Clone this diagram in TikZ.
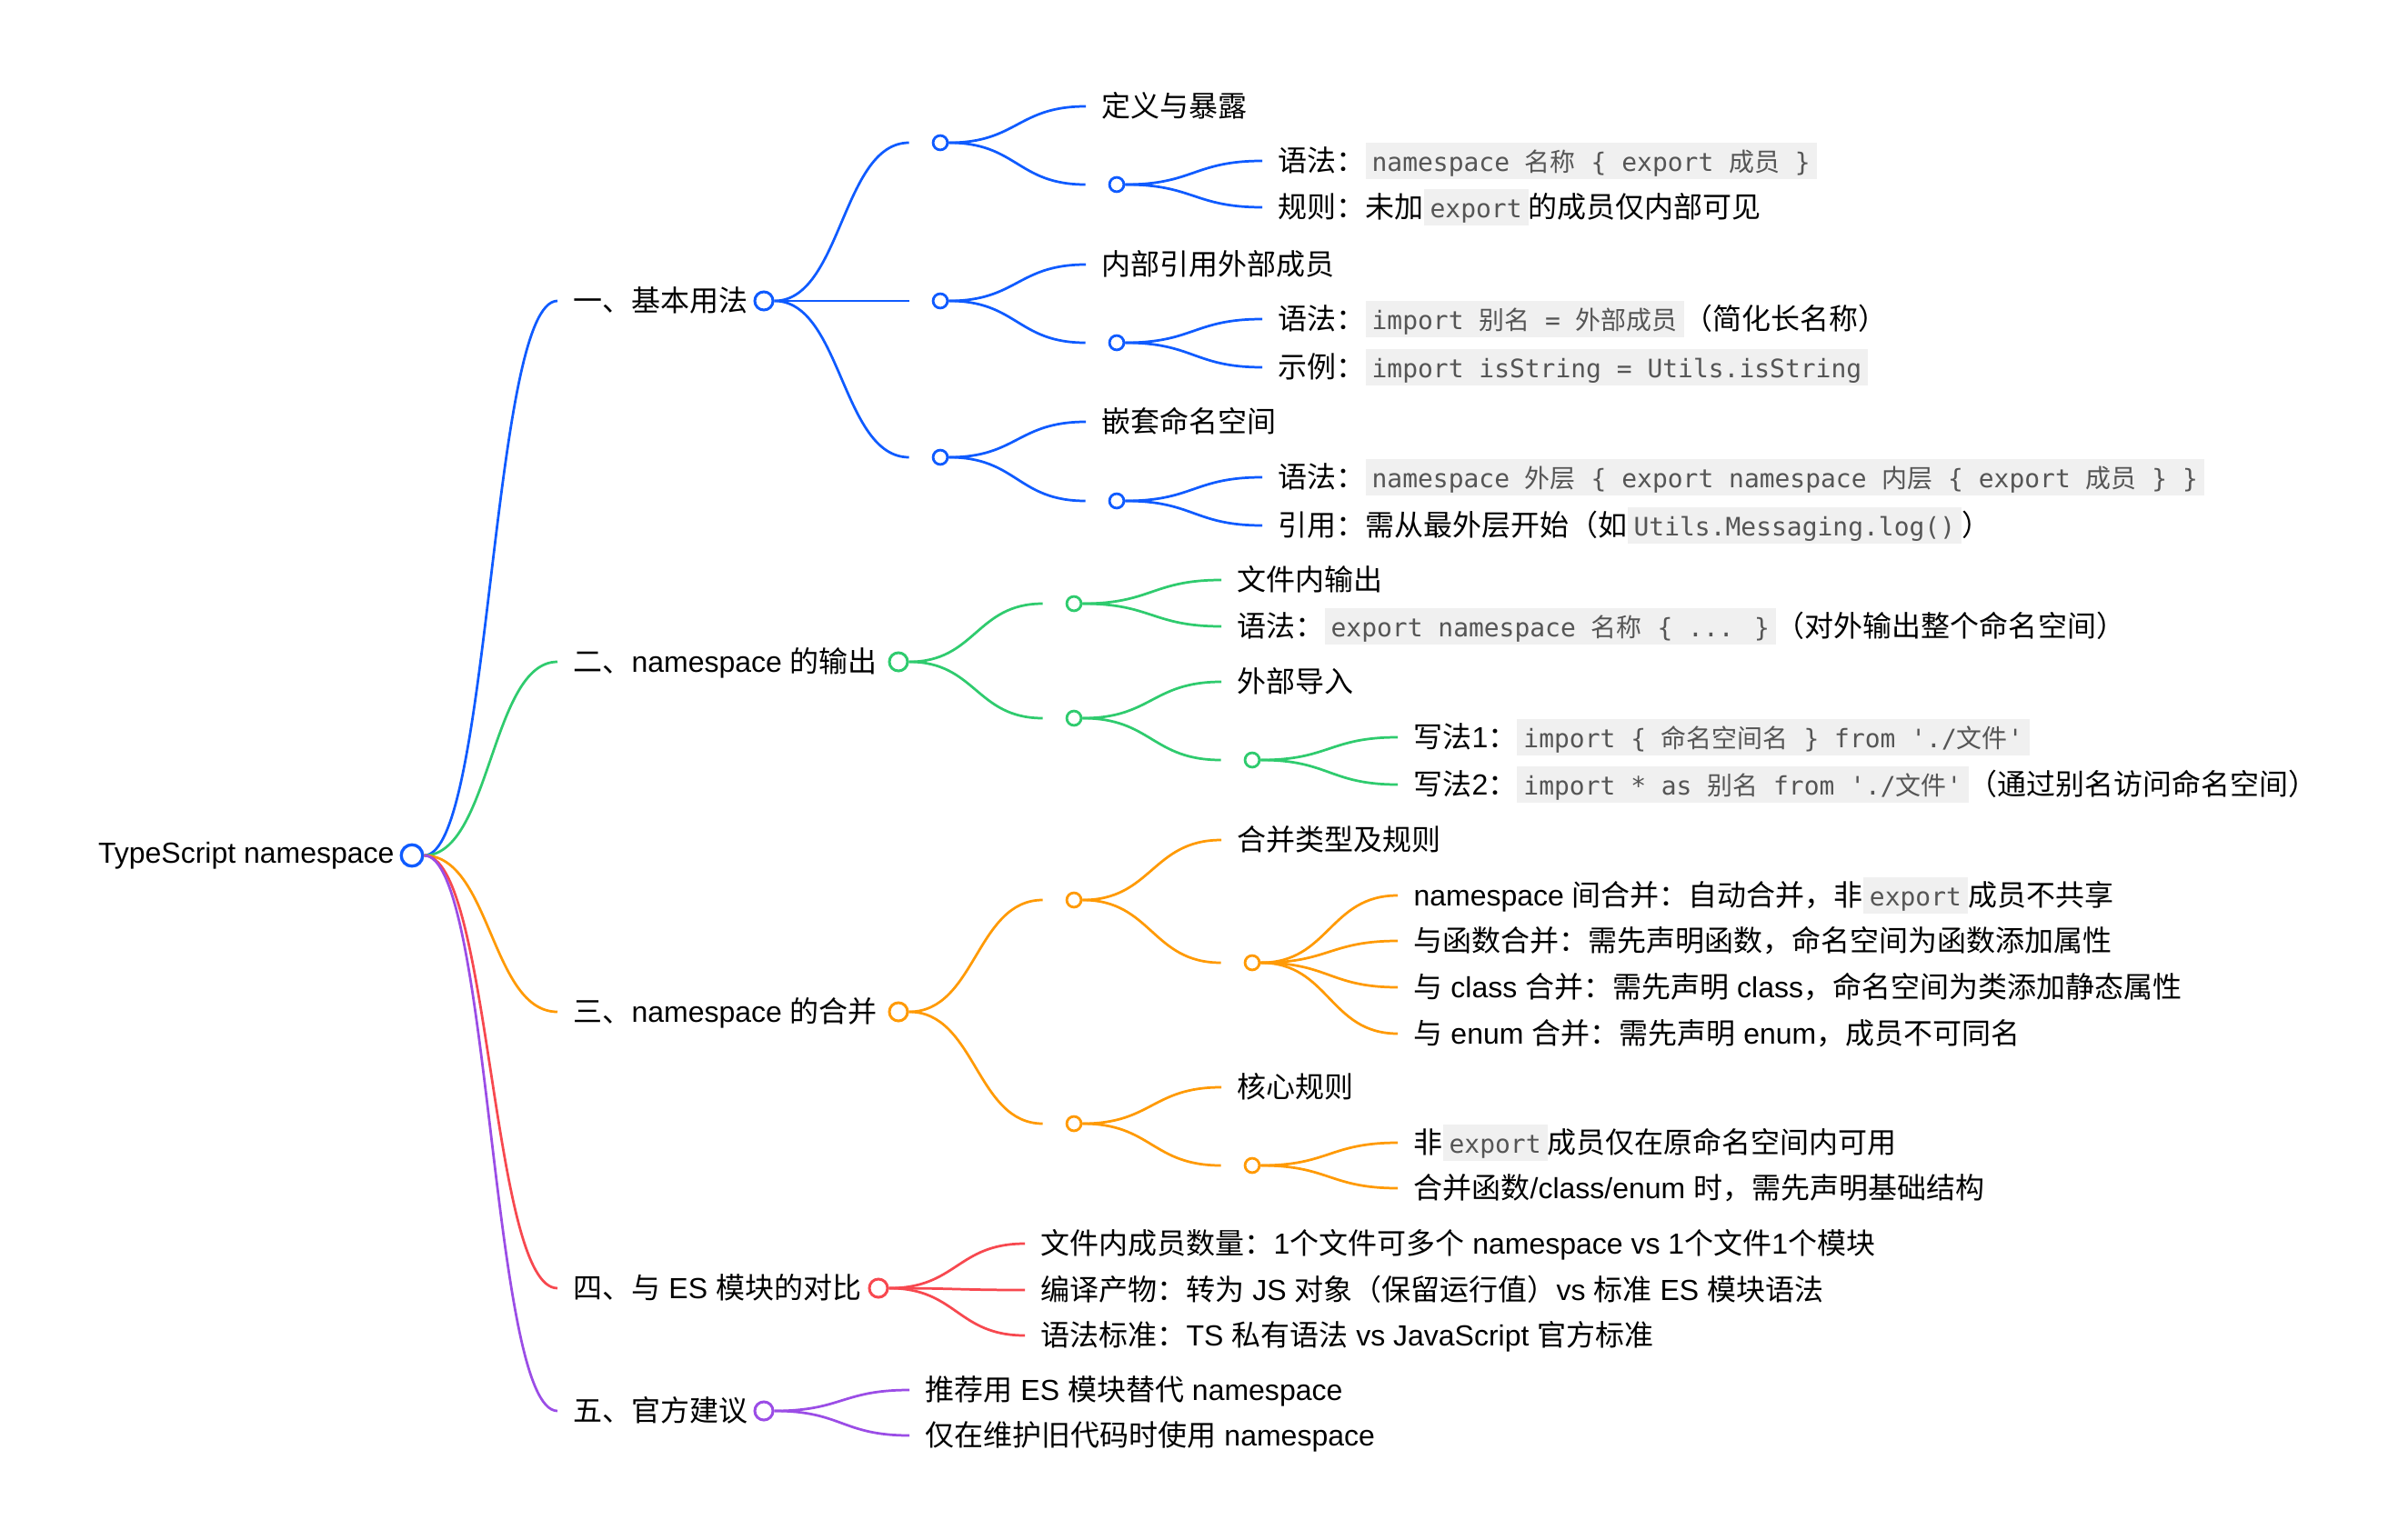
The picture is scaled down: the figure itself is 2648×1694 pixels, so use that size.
\documentclass[tikz,border=0pt]{standalone}
\usepackage{fontspec}
\setmainfont{Liberation Sans}
\newfontfamily\cjkfont{Noto Sans CJK SC}
\newfontfamily\codefont{DejaVu Sans Mono}
\usetikzlibrary{positioning, calc}
\definecolor{MM_Blue}{HTML}{0F5BFF}
\definecolor{MM_Green}{HTML}{2FCB6E}
\definecolor{MM_Orange}{HTML}{FF9A05}
\definecolor{MM_Red}{HTML}{F7484F}
\definecolor{MM_Purple}{HTML}{9B4DE6}
\definecolor{CodeBg}{HTML}{F0F0F0}
\definecolor{CodeText}{HTML}{555555}

% switch to the CJK font for Chinese characters
\XeTeXinterchartokenstate=1
\newXeTeXintercharclass\cjkclass
\newcount\cjkcc
\cjkcc="3000 \loop\XeTeXcharclass\cjkcc=\cjkclass \advance\cjkcc by 1 \ifnum\cjkcc<"3040 \repeat
\cjkcc="4E00 \loop\XeTeXcharclass\cjkcc=\cjkclass \advance\cjkcc by 1 \ifnum\cjkcc<"A000 \repeat
\cjkcc="FF00 \loop\XeTeXcharclass\cjkcc=\cjkclass \advance\cjkcc by 1 \ifnum\cjkcc<"FFF0 \repeat
\newcommand{\latinswitch}{\rmfamily}
\XeTeXinterchartoks 0 \cjkclass = {\cjkfont}
\XeTeXinterchartoks 4095 \cjkclass = {\cjkfont}
\XeTeXinterchartoks \cjkclass 0 = {\latinswitch}
\XeTeXinterchartoks \cjkclass 4095 = {\latinswitch}

\newcommand{\code}[1]{{\setlength{\fboxsep}{0pt}\colorbox{CodeBg}{\rule[-2.6pt]{0pt}{11.5pt}\hspace{2pt}\let\latinswitch\codefont\codefont\fontsize{7.95}{10}\selectfont\color{CodeText}#1\hspace{2pt}}}}

\begin{document}
\begin{tikzpicture}[
  x=0.01cm, y=-0.01cm,
  every node/.style={font=\fontsize{9.1}{11}\selectfont},
  leaf/.style={anchor=west, inner xsep=4.8pt, inner ysep=0pt, text height=7.6pt, text depth=1.3pt},
  dot/.style={circle, draw=#1, fill=white, line width=0.8pt, minimum size=4.5pt, inner sep=0pt},
  topdot/.style={dot=#1, line width=0.85pt, minimum size=5.7pt},
  rootdot/.style={dot=#1, line width=0.95pt, minimum size=6.7pt},
  link/.style={draw=#1, line width=0.78pt,
    to path={let \p1=(\tikztostart), \p2=(\tikztotarget) in
      .. controls ({0.5*\x1+0.5*\x2},\y1) and ({0.5*\x1+0.5*\x2},\y2) .. (\tikztotarget)}},
]
  \path[use as bounding box, fill=white] (0,0) rectangle (2648,1694);

  % Root
  \node[rootdot=MM_Blue] (root) at (453,941) {};
  \node[left=1.5pt of root, inner sep=0pt] (roottxt) {TypeScript namespace};

  % Branch 1
  \node[leaf] (b0t) at (613,331) {一、基本用法};
  \node[topdot=MM_Blue] (b0) at (840,331) {};
  \node[dot=MM_Blue] (b1) at (1034,157) {};
  \node[dot=MM_Blue] (b2) at (1034,331) {};
  \node[dot=MM_Blue] (b3) at (1034,503) {};
  \node[leaf] (b11) at (1194,117) {定义与暴露};
  \node[dot=MM_Blue] (b12) at (1228,203) {};
  \node[leaf] (b121) at (1388,177) {语法：\code{namespace 名称 \{ export 成员 \}}};
  \node[leaf] (b122) at (1388,228) {规则：未加\code{export}的成员仅内部可见};
  \node[leaf] (b21) at (1194,291) {内部引用外部成员};
  \node[dot=MM_Blue] (b22) at (1228,377) {};
  \node[leaf] (b221) at (1388,351) {语法：\code{import 别名 = 外部成员}（简化长名称）};
  \node[leaf] (b222) at (1388,404) {示例：\code{import isString = Utils.isString}};
  \node[leaf] (b31) at (1194,464) {嵌套命名空间};
  \node[dot=MM_Blue] (b32) at (1228,551) {};
  \node[leaf] (b321) at (1388,525) {语法：\code{namespace 外层 \{ export namespace 内层 \{ export 成员 \} \}}};
  \node[leaf] (b322) at (1388,578) {引用：需从最外层开始（如\code{Utils.Messaging.log()}）};

  % Branch 2
  \node[leaf] (g0t) at (613,728) {二、namespace 的输出};
  \node[topdot=MM_Green] (g0) at (988,728) {};
  \node[dot=MM_Green] (g1) at (1181,664) {};
  \node[dot=MM_Green] (g2) at (1181,790) {};
  \node[leaf] (g11) at (1343,638) {文件内输出};
  \node[leaf] (g12) at (1343,689) {语法：\code{export namespace 名称 \{ ... \}}（对外输出整个命名空间）};
  \node[leaf] (g21) at (1343,750) {外部导入};
  \node[dot=MM_Green] (g22) at (1377,836) {};
  \node[leaf] (g221) at (1537,811) {写法1：\code{import \{ 命名空间名 \} from \textquotesingle./文件\textquotesingle}};
  \node[leaf] (g222) at (1537,863) {写法2：\code{import * as 别名 from \textquotesingle./文件\textquotesingle}（通过别名访问命名空间）};

  % Branch 3
  \node[leaf] (o0t) at (613,1113) {三、namespace 的合并};
  \node[topdot=MM_Orange] (o0) at (988,1113) {};
  \node[dot=MM_Orange] (o1) at (1181,990) {};
  \node[dot=MM_Orange] (o2) at (1181,1236) {};
  \node[leaf] (o11) at (1343,924) {合并类型及规则};
  \node[dot=MM_Orange] (o12) at (1377,1059) {};
  \node[leaf] (o121) at (1537,985) {namespace 间合并：自动合并，非\code{export}成员不共享};
  \node[leaf] (o122) at (1537,1035) {与函数合并：需先声明函数，命名空间为函数添加属性};
  \node[leaf] (o123) at (1537,1086) {与 class 合并：需先声明 class，命名空间为类添加静态属性};
  \node[leaf] (o124) at (1537,1137) {与 enum 合并：需先声明 enum，成员不可同名};
  \node[leaf] (o21) at (1343,1196) {核心规则};
  \node[dot=MM_Orange] (o22) at (1377,1282) {};
  \node[leaf] (o221) at (1537,1257) {非\code{export}成员仅在原命名空间内可用};
  \node[leaf] (o222) at (1537,1307) {合并函数/class/enum 时，需先声明基础结构};

  % Branch 4
  \node[leaf] (r0t) at (613,1417) {四、与 ES 模块的对比};
  \node[topdot=MM_Red] (r0) at (966,1417) {};
  \node[leaf] (r1) at (1127,1368) {文件内成员数量：1个文件可多个 namespace vs 1个文件1个模块};
  \node[leaf] (r2) at (1127,1419) {编译产物：转为 JS 对象（保留运行值）vs 标准 ES 模块语法};
  \node[leaf] (r3) at (1127,1469) {语法标准：TS 私有语法 vs JavaScript 官方标准};

  % Branch 5
  \node[leaf] (p0t) at (613,1552) {五、官方建议};
  \node[topdot=MM_Purple] (p0) at (840,1552) {};
  \node[leaf] (p1) at (1000,1529) {推荐用 ES 模块替代 namespace};
  \node[leaf] (p2) at (1000,1579) {仅在维护旧代码时使用 namespace};

  % Links from root
  \draw[link=MM_Blue] (root.east) to (b0t.west);
  \draw[link=MM_Green] (root.east) to (g0t.west);
  \draw[link=MM_Orange] (root.east) to (o0t.west);
  \draw[link=MM_Red] (root.east) to (r0t.west);
  \draw[link=MM_Purple] (root.east) to (p0t.west);

  % Links, branch 1
  \draw[link=MM_Blue] (b0.east) to ([xshift=-0.25cm]b1.west);
  \draw[link=MM_Blue] (b0.east) to ([xshift=-0.25cm]b2.west);
  \draw[link=MM_Blue] (b0.east) to ([xshift=-0.25cm]b3.west);
  \draw[link=MM_Blue] (b1.east) to (b11.west);
  \draw[link=MM_Blue] (b1.east) to ([xshift=-0.25cm]b12.west);
  \draw[link=MM_Blue] (b12.east) to (b121.west);
  \draw[link=MM_Blue] (b12.east) to (b122.west);
  \draw[link=MM_Blue] (b2.east) to (b21.west);
  \draw[link=MM_Blue] (b2.east) to ([xshift=-0.25cm]b22.west);
  \draw[link=MM_Blue] (b22.east) to (b221.west);
  \draw[link=MM_Blue] (b22.east) to (b222.west);
  \draw[link=MM_Blue] (b3.east) to (b31.west);
  \draw[link=MM_Blue] (b3.east) to ([xshift=-0.25cm]b32.west);
  \draw[link=MM_Blue] (b32.east) to (b321.west);
  \draw[link=MM_Blue] (b32.east) to (b322.west);

  % Links, branch 2
  \draw[link=MM_Green] (g0.east) to ([xshift=-0.25cm]g1.west);
  \draw[link=MM_Green] (g0.east) to ([xshift=-0.25cm]g2.west);
  \draw[link=MM_Green] (g1.east) to (g11.west);
  \draw[link=MM_Green] (g1.east) to (g12.west);
  \draw[link=MM_Green] (g2.east) to (g21.west);
  \draw[link=MM_Green] (g2.east) to ([xshift=-0.25cm]g22.west);
  \draw[link=MM_Green] (g22.east) to (g221.west);
  \draw[link=MM_Green] (g22.east) to (g222.west);

  % Links, branch 3
  \draw[link=MM_Orange] (o0.east) to ([xshift=-0.25cm]o1.west);
  \draw[link=MM_Orange] (o0.east) to ([xshift=-0.25cm]o2.west);
  \draw[link=MM_Orange] (o1.east) to (o11.west);
  \draw[link=MM_Orange] (o1.east) to ([xshift=-0.25cm]o12.west);
  \draw[link=MM_Orange] (o12.east) to (o121.west);
  \draw[link=MM_Orange] (o12.east) to (o122.west);
  \draw[link=MM_Orange] (o12.east) to (o123.west);
  \draw[link=MM_Orange] (o12.east) to (o124.west);
  \draw[link=MM_Orange] (o2.east) to (o21.west);
  \draw[link=MM_Orange] (o2.east) to ([xshift=-0.25cm]o22.west);
  \draw[link=MM_Orange] (o22.east) to (o221.west);
  \draw[link=MM_Orange] (o22.east) to (o222.west);

  % Links, branch 4 and 5
  \draw[link=MM_Red] (r0.east) to (r1.west);
  \draw[link=MM_Red] (r0.east) to (r2.west);
  \draw[link=MM_Red] (r0.east) to (r3.west);
  \draw[link=MM_Purple] (p0.east) to (p1.west);
  \draw[link=MM_Purple] (p0.east) to (p2.west);
\end{tikzpicture}
\end{document}
